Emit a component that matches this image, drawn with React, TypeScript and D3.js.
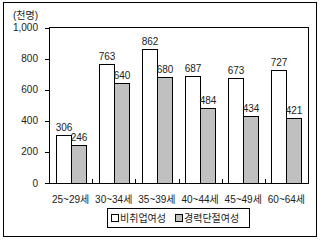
import React from "react";
import * as d3 from "d3";

const categories = ["25~29세", "30~34세", "35~39세", "40~44세", "45~49세", "60~64세"];
const nonEmployed = [306, 763, 862, 687, 673, 727];
const careerBreak = [246, 640, 680, 484, 434, 421];
const yTicks = [0, 200, 400, 600, 800, 1000];
const seriesNames = ["비취업여성", "경력단절여성"];
const unitLabel = "(천명)";

const FONT = "'Liberation Sans', 'Noto Sans CJK KR', sans-serif";

export default function App() {
  const W = 325, H = 240;
  const left = 49, right = 308, top = 27, bottom = 183;
  const x = d3.scaleBand<string>().domain(categories).range([left, right]).paddingInner(0).paddingOuter(0);
  const y = d3.scaleLinear().domain([0, 1000]).range([bottom, top + 0.5]);
  const bw = 15;
  const fmt = d3.format(",");
  const colors = ["#ffffff", "#c0c0c0"];
  const series = [nonEmployed, careerBreak];

  return (
    <svg width={W} height={H} style={{ position: "absolute", left: 0, top: 0 }} fontFamily={FONT}>
      <rect x={3.5} y={2.5} width={313} height={234} fill="#fff" stroke="#000" strokeWidth={1} />
      <text x={13} y={19} fontSize={10} fill="#222">{unitLabel}</text>
      {/* plot frame */}
      <rect x={left + 0.5} y={top + 0.5} width={right - left} height={bottom - top} fill="none" stroke="#000" strokeWidth={1} />
      {/* y ticks */}
      {yTicks.map((t) => (
        <g key={t}>
          <line x1={left - 4} x2={left + 0.5} y1={Math.round(y(t)) + 0.5} y2={Math.round(y(t)) + 0.5} stroke="#000" />
          <text x={38} y={y(t) + 3.5} fontSize={10} textAnchor="end" fill="#222">{fmt(t)}</text>
        </g>
      ))}
      {/* bars */}
      {categories.map((c, i) => {
        const cx = (x(c) as number) + x.bandwidth() / 2;
        return (
          <g key={c}>
            {series.map((s, j) => {
              const bx = Math.round(cx - bw + j * bw) + 0.5;
              const by = Math.round(y(s[i])) + 0.5;
              return (
                <g key={j}>
                  <rect x={bx} y={by} width={bw} height={y(0) - by + 0.5} fill={colors[j]} stroke="#000" strokeWidth={1} />
                  <text x={bx + bw / 2} y={by - 5} fontSize={10} textAnchor="middle" fill="#222">{s[i]}</text>
                </g>
              );
            })}
            {i > 0 && (
              <line x1={Math.round(x(c) as number) + 0.5} x2={Math.round(x(c) as number) + 0.5} y1={bottom - 4} y2={bottom} stroke="#000" />
            )}
            <text x={cx} y={202.5} fontSize={10} textAnchor="middle" fill="#222">{c}</text>
          </g>
        );
      })}
      <line x1={left} x2={right + 1} y1={bottom + 0.5} y2={bottom + 0.5} stroke="#000" />
      {/* legend */}
      <rect x={107.5} y={208.5} width={142} height={19} fill="#fff" stroke="#000" />
      <rect x={111.5} y={214.5} width={7} height={7} fill={colors[0]} stroke="#000" />
      <text x={120} y={221.5} fontSize={10} fill="#222">{seriesNames[0]}</text>
      <rect x={175.5} y={214.5} width={7} height={7} fill={colors[1]} stroke="#000" />
      <text x={184} y={221.5} fontSize={10} fill="#222">{seriesNames[1]}</text>
    </svg>
  );
}
